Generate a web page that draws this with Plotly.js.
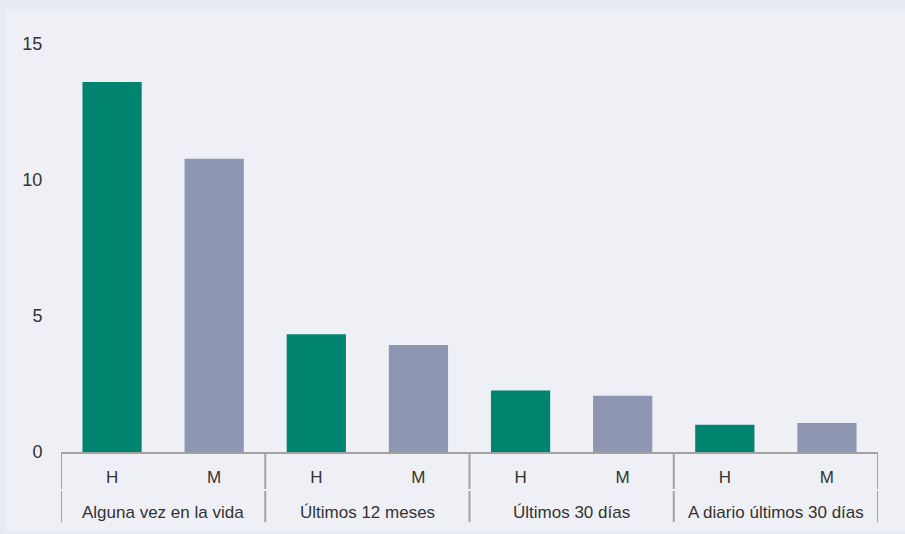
<!DOCTYPE html>
<html><head><meta charset="utf-8">
<script src="https://cdn.plot.ly/plotly-3.0.1.min.js"></script>
<style>html,body{margin:0;padding:0;background:#e7eaf2;}#c{width:905px;height:534px;}</style>
</head><body><div id="c"></div>
<script>
const groups = ["Alguna vez en la vida", "Últimos 12 meses", "Últimos 30 días", "A diario últimos 30 días"];
const sexes = ["H", "M"];
const valuesH = [13.6, 4.33, 2.26, 1.0];
const valuesM = [10.78, 3.93, 2.07, 1.07];
const colorH = "#00846f";
const colorM = "#8e96b2";

const PX_PER_UNIT = 27.2;
const plotTop = 34, plotBottom = 452, plotH = plotBottom - plotTop;
const lineColor = "#a3a3a3";
const textColor = "#333333";

const xs = [], ys = [], cs = [], tickvals = [], ticktext = [];
groups.forEach((g, i) => {
  sexes.forEach((s, j) => {
    const idx = i * sexes.length + j;
    xs.push(idx); tickvals.push(idx); ticktext.push(s);
    ys.push(j === 0 ? valuesH[i] : valuesM[i]);
    cs.push(j === 0 ? colorH : colorM);
  });
});

const shapes = [{type: "rect", xref: "paper", yref: "paper", layer: "below",
  x0: -55/817, x1: 1 + 27/817, y0: -80/plotH, y1: 1 + 25/plotH,
  fillcolor: "#eff0f5", line: {width: 0}}];
const annotations = [];
const nb = groups.length * sexes.length;
for (let k = 0; k <= groups.length; k++) {
  const xb = k * sexes.length - 0.5;
  shapes.push({type: "line", xref: "x", yref: "paper", x0: xb, x1: xb,
    y0: 0, y1: -37/plotH, line: {color: lineColor, width: 2}});
  shapes.push({type: "line", xref: "x", yref: "paper", x0: xb, x1: xb,
    y0: -39/plotH, y1: -70/plotH, line: {color: lineColor, width: 2}});
}
groups.forEach((g, i) => {
  annotations.push({xref: "x", yref: "paper", x: i * sexes.length + (sexes.length - 1) / 2,
    y: -60/plotH, text: g, showarrow: false, xanchor: "center", yanchor: "middle",
    font: {size: 17, color: textColor}});
});

const data = [{
  type: "bar", x: xs, y: ys, width: 0.58,
  marker: {color: cs, line: {width: 0}}, hoverinfo: "skip"
}];

const layout = {
  width: 905, height: 534,
  margin: {l: 61, r: 27, t: plotTop, b: 534 - plotBottom},
  paper_bgcolor: "#e7eaf2",
  plot_bgcolor: "rgba(0,0,0,0)",
  showlegend: false,
  font: {family: "Liberation Sans, Arial, sans-serif", size: 16, color: textColor},
  shapes: shapes,
  annotations: annotations,
  xaxis: {
    range: [-0.5, nb - 0.5],
    tickvals: tickvals, ticktext: ticktext,
    showline: true, linecolor: lineColor, linewidth: 2,
    ticks: "outside", ticklen: 9, tickcolor: "rgba(0,0,0,0)",
    showgrid: false, zeroline: false,
    tickfont: {size: 17, color: textColor}
  },
  yaxis: {
    range: [0, plotH / PX_PER_UNIT],
    tickvals: [0, 5, 10, 15],
    showgrid: false, zeroline: false, showline: false,
    ticks: "outside", ticklen: 14, tickcolor: "rgba(0,0,0,0)",
    tickfont: {size: 18, color: textColor}
  }
};
Plotly.newPlot("c", data, layout, {displayModeBar: false, staticPlot: true});
</script></body></html>
